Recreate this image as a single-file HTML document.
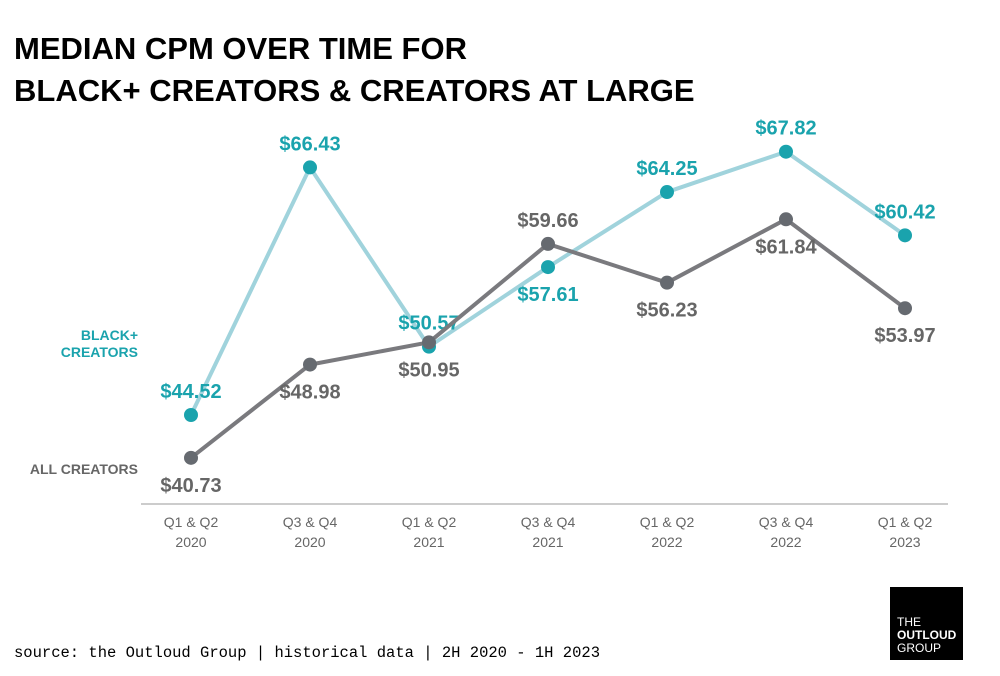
<!DOCTYPE html>
<html><head><meta charset="utf-8"><style>
body{margin:0;background:#fff;width:1000px;height:671px;overflow:hidden;font-family:"Liberation Sans",sans-serif}
</style></head><body>
<svg width="1000" height="671" xmlns="http://www.w3.org/2000/svg">
<text x="14" y="59" font-size="31" font-weight="bold" fill="#000">MEDIAN CPM OVER TIME FOR</text>
<text x="14" y="101" font-size="31" font-weight="bold" fill="#000">BLACK+ CREATORS &amp; CREATORS AT LARGE</text>
<line x1="141" y1="504" x2="948" y2="504" stroke="#ccc" stroke-width="2"/>
<text x="138" y="340" font-size="14" font-weight="bold" fill="#1aa3ad" text-anchor="end"><tspan x="138">BLACK+</tspan><tspan x="138" dy="17">CREATORS</tspan></text>
<text x="138" y="474" font-size="14" font-weight="bold" fill="#666" text-anchor="end">ALL CREATORS</text>
<g id="plot"></g>
<text x="14" y="657" font-size="15.5" font-family="Liberation Mono, monospace" fill="#000">source: the Outloud Group | historical data | 2H 2020 - 1H 2023</text>
<rect x="890" y="587" width="73" height="73" fill="#000"/>
<text font-size="12" fill="#fff"><tspan x="897" y="626">THE</tspan><tspan x="897" y="639" font-weight="bold">OUTLOUD</tspan><tspan x="897" y="652">GROUP</tspan></text>
</svg>
<script>
const categories=["Q1 & Q2|2020","Q3 & Q4|2020","Q1 & Q2|2021","Q3 & Q4|2021","Q1 & Q2|2022","Q3 & Q4|2022","Q1 & Q2|2023"];
const blackValues=[44.52,66.43,50.57,57.61,64.25,67.82,60.42];
const allValues=[40.73,48.98,50.95,59.66,56.23,61.84,53.97];
const blackLabelSide=["above","above","above","below","above","above","above"];
const allLabelSide=["below","below","below","above","below","below","below"];
const NS="http://www.w3.org/2000/svg";
const g=document.getElementById('plot');
function xPos(i){return 191+i*119;}
function yPos(v){return 415-(v-44.52)*11.3;}
function mk(t,a){const e=document.createElementNS(NS,t);for(const k in a)e.setAttribute(k,a[k]);g.appendChild(e);return e;}
categories.forEach((c,i)=>{const p=c.split('|');
 const t=mk('text',{x:xPos(i),y:527,'font-size':14,fill:'#666','text-anchor':'middle'});
 
 
 t.innerHTML='<tspan x="'+xPos(i)+'">'+p[0].replace('&','&amp;')+'</tspan><tspan x="'+xPos(i)+'" dy="20">'+p[1]+'</tspan>';});
function series(vals,sides,lineCol,dotCol,txtCol,name){
 const pl=mk('polyline',{points:vals.map((v,i)=>xPos(i)+','+yPos(v)).join(' '),fill:'none',stroke:lineCol,'stroke-width':4,'stroke-linejoin':'round'});
 
 
 vals.forEach((v,i)=>{
  const c=mk('circle',{cx:xPos(i),cy:yPos(v),r:7,fill:dotCol});
  
  
  const y=sides[i]==='above'?yPos(v)-17:yPos(v)+34;
  const t=mk('text',{x:xPos(i),y:y,'font-size':20,'font-weight':'bold',fill:txtCol,'text-anchor':'middle'});
  t.textContent='$'+v.toFixed(2);
  
  
 });
}
series(blackValues,blackLabelSide,'#a0d3dc','#1aa3ad','#1aa3ad','black-creators');
series(allValues,allLabelSide,'#7a7a7e','#666a70','#666','all-creators');
</script>
</body></html>
